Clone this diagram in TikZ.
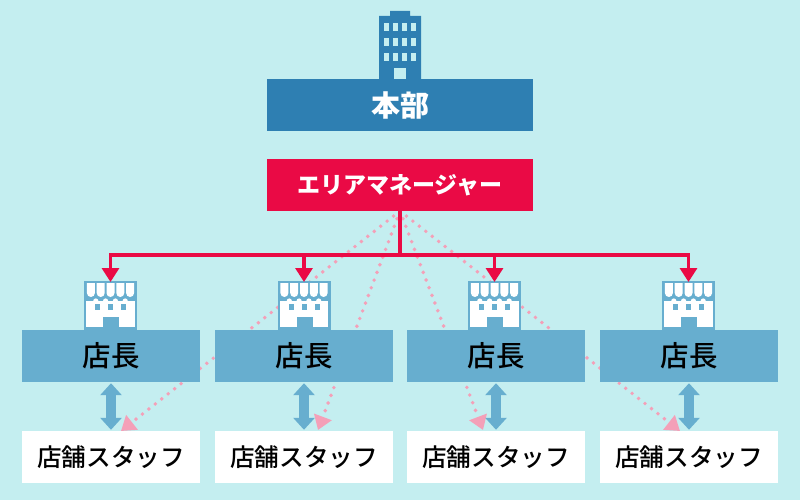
\documentclass[tikz,border=0pt]{standalone}
\usepackage{fontspec}
\setmainfont{Noto Sans CJK JP}
\newfontfamily\medfont{Noto Sans CJK JP Medium}
\usetikzlibrary{arrows.meta}
\definecolor{bgcol}{HTML}{C4EEF0}
\definecolor{hqcol}{HTML}{2E7FB2}
\definecolor{redcol}{HTML}{EA0A45}
\definecolor{shopcol}{HTML}{67AECF}
\definecolor{pinkcol}{HTML}{F4A0B8}
\tikzset{
  box/.style={minimum width=#1, minimum height=52pt, inner sep=0pt, font=\fontsize{24.6}{25}\medfont},
  manager/.style={box=178pt, fill=shopcol, text=black, font=\fontsize{28.5}{28}\medfont},
  staff/.style={box=178pt, fill=white, text=black},
  redarrow/.style={draw=redcol, line width=3.2pt, -{Triangle[length=14pt,width=17pt]}},
  dotline/.style={draw=pinkcol, line width=3.9pt, line cap=round, dash pattern=on 0pt off 8.2pt,
    -{Triangle[length=14pt,width=18pt]}},
  twoway/.style={draw=shopcol, line width=10pt, {Triangle[length=12pt,width=21pt]}-{Triangle[length=12pt,width=21pt]}},
  shop/.pic={
    \fill[shopcol] (-26.5,49) rectangle (26.5,0);
    \fill[white] (-24.5,29.5) rectangle (24,3);
    \foreach \i in {-19.6,-9.8,0,9.8,19.6} {
      \fill[white] ({\i-4},47) -- ({\i-4},37) arc (180:360:4) -- ({\i+4},47) -- cycle;
    }
    \foreach \i in {-14.7,-4.9,4.9,14.7}
      \fill[white] (\i,29) circle (2.6);
    \foreach \i in {-13,0,13}
      \fill[shopcol] ({\i-2.5},20) rectangle ({\i+2.5},26);
    \fill[shopcol] (-7.5,13) rectangle (8.5,0);
  }
}
\begin{document}
\begin{tikzpicture}[x=1pt,y=-1pt]
  \useasboundingbox[fill=bgcol] (0,0) rectangle (800,500);

  % dotted lines go under the boxes
  \coordinate (from) at (400,211);
  \coordinate (end1) at (121,431);
  \coordinate (end2) at (318,430);
  \coordinate (end3) at (483,430);
  \coordinate (end4) at (680,431);
  \foreach \e in {end1,end2,end3,end4}
    \draw[dotline] (from) -- (\e);

  % head office
  \fill[hqcol] (379,16) rectangle (421,80) (390,11) rectangle (410,17);
  \foreach \x in {384,393,402,411}
    \foreach \y in {23,38,53}
      \fill[bgcol] (\x,\y) rectangle ++(5,8);
  \fill[bgcol] (394,68) rectangle (406,79);
  \node[box=266pt, fill=hqcol, text=white, font=\fontsize{29}{29}\selectfont\bfseries] (hq) at (400,105) {本部};
  \node[box=266pt, fill=redcol, text=white, font=\fontsize{23}{23}\selectfont\bfseries] (area) at (400,185) {エリアマネージャー};

  \foreach \n/\x/\c in {1/111/110.5,2/304/304,3/496/494.5,4/689/688.5} {
    \node[manager] (mgr\n) at (\x,356) {店長};
    \node[staff] (st\n) at (\x,457) {店舗スタッフ};
    \pic[yscale=-1] at (\c,330) {shop};
    \coordinate (top\n) at (\c,282);
    \draw[twoway] ([yshift=-1pt]mgr\n.south) -- ([yshift=1pt]st\n.north);
  }

  % red lines
  \draw[draw=redcol, line width=3.2pt] (area.south) -- (400,255);
  \draw[redarrow] (400,255) -| (top1);
  \draw[redarrow] (400,255) -| (top2);
  \draw[redarrow] (400,255) -| (top3);
  \draw[redarrow] (400,255) -| (top4);
\end{tikzpicture}
\end{document}
